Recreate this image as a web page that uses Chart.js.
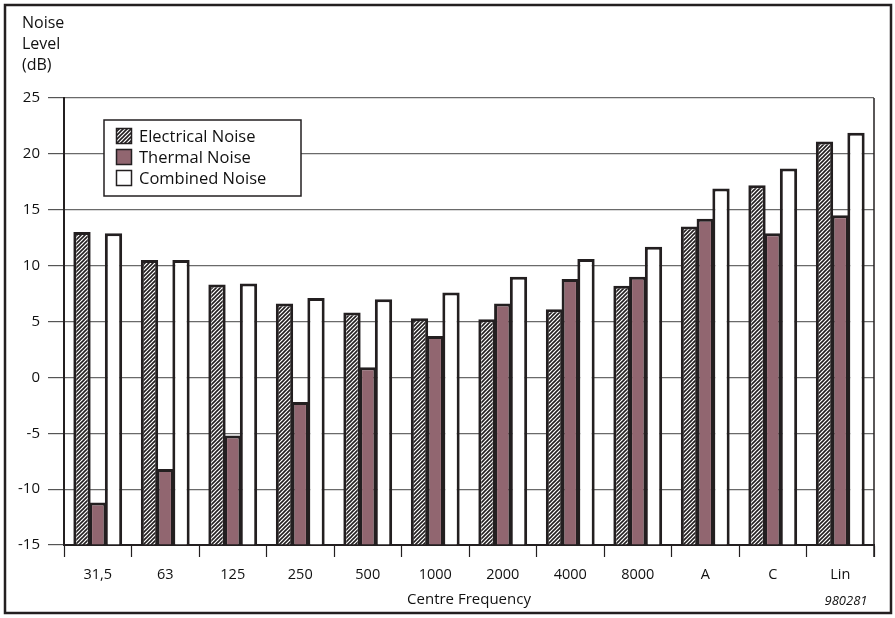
<!DOCTYPE html>
<html>
<head>
<meta charset="utf-8">
<script src="https://cdn.jsdelivr.net/npm/chart.js@4"></script>
<style>
  html, body { margin: 0; padding: 0; background: #fff; }
  #wrap { width: 895px; height: 618px; position: relative; }
</style>
</head>
<body>
<div id="wrap"><canvas id="noiseChart" width="895" height="618"></canvas></div>
<script>
const categories = ["31,5", "63", "125", "250", "500", "1000", "2000", "4000", "8000", "A", "C", "Lin"];
const electricalNoise = [13.0, 10.5, 8.3, 6.6, 5.8, 5.3, 5.2, 6.1, 8.2, 13.5, 17.2, 21.1];
const thermalNoise = [-11.2, -8.2, -5.2, -2.2, 0.9, 3.7, 6.6, 8.8, 9.0, 14.2, 12.9, 14.5];
const combinedNoise = [12.9, 10.5, 8.4, 7.1, 7.0, 7.6, 9.0, 10.6, 11.7, 16.9, 18.7, 21.9];
const yMin = -15, yMax = 25, yStep = 5;

const INK = "#231f20";
const MAUVE = "#916670";
const FONT = "'Open Sans', 'Noto Sans', sans-serif";

// diagonal hatch for the electrical noise bars
function makeHatch() {
    const s = 4;
    const c = document.createElement("canvas");
    c.width = s; c.height = s;
    const g = c.getContext("2d");
    g.fillStyle = "#fff";
    g.fillRect(0, 0, s, s);
    g.strokeStyle = INK;
    g.lineWidth = 1.6;
    g.beginPath();
    g.moveTo(-1, s + 1); g.lineTo(s + 1, -1);
    g.moveTo(-1, 1); g.lineTo(1, -1);
    g.moveTo(s - 1, s + 1); g.lineTo(s + 1, s - 1);
    g.stroke();
    return g.createPattern(c, "repeat");
}
const hatch = makeHatch();

// frame, right edge, header text and the boxed legend
const decorations = {
    id: "decorations",
    beforeDatasetsDraw(chart) {
        const { ctx, chartArea } = chart;
        ctx.save();
        ctx.strokeStyle = INK;
        ctx.lineWidth = 1.5;
        ctx.beginPath();
        ctx.moveTo(chartArea.right, chartArea.top);
        ctx.lineTo(chartArea.right, chartArea.bottom + 12);
        ctx.stroke();
        ctx.restore();
    },
    afterDraw(chart) {
        const { ctx } = chart;
        ctx.save();
        ctx.strokeStyle = INK;
        ctx.lineWidth = 2.5;
        ctx.strokeRect(5, 5, 886, 608);

        ctx.fillStyle = "#111";
        ctx.font = "16px " + FONT;
        ctx.textBaseline = "middle";
        ctx.textAlign = "left";
        ["Noise", "Level", "(dB)"].forEach((t, i) => ctx.fillText(t, 22, 23 + i * 21));

        ctx.font = "italic 13px " + FONT;
        ctx.textAlign = "center";
        ctx.fillText("980281", 846, 601);

        // legend
        const lx = 104, ly = 120, lw = 197, lh = 76;
        ctx.fillStyle = "#fff";
        ctx.fillRect(lx, ly, lw, lh);
        ctx.lineWidth = 1.5;
        ctx.strokeStyle = INK;
        ctx.strokeRect(lx, ly, lw, lh);
        ctx.font = "16.5px " + FONT;
        ctx.textAlign = "left";
        chart.data.datasets.forEach((ds, i) => {
            const cy = 136 + i * 21;
            ctx.fillStyle = ds.backgroundColor;
            ctx.fillRect(116, cy - 8, 16, 16);
            ctx.strokeRect(116.5, cy - 7.5, 15, 15);
            ctx.fillStyle = "#111";
            ctx.fillText(ds.label, 139, cy + 1);
        });
        ctx.restore();
    }
};

const barStyle = {
    base: yMin,
    borderColor: INK,
    borderWidth: 3,
    borderSkipped: "start",
    barPercentage: 1.1,
    categoryPercentage: 0.7,
};

new Chart(document.getElementById("noiseChart"), {
    type: "bar",
    data: {
        labels: categories,
        datasets: [
            { label: "Electrical Noise", data: electricalNoise, backgroundColor: hatch, ...barStyle },
            { label: "Thermal Noise", data: thermalNoise, backgroundColor: MAUVE, ...barStyle },
            { label: "Combined Noise", data: combinedNoise, backgroundColor: "#ffffff", ...barStyle },
        ],
    },
    options: {
        responsive: false,
        animation: false,
        layout: { padding: { left: 0, top: 98, right: 21, bottom: 0 } },
        plugins: {
            legend: { display: false },
            tooltip: { enabled: false },
        },
        scales: {
            x: {
                afterFit(scale) { scale.height = 73; },
                grid: {
                    offset: true,
                    drawOnChartArea: false,
                    tickLength: 12,
                    tickColor: INK,
                    tickWidth: 1.2,
                },
                border: { color: INK, width: 2 },
                ticks: {
                    color: "#111",
                    font: { family: FONT, size: 14.5 },
                    padding: 9,
                    maxRotation: 0,
                },
                title: {
                    display: true,
                    text: "Centre Frequency",
                    color: "#111",
                    font: { family: FONT, size: 15 },
                    padding: { top: 2, bottom: 9 },
                },
            },
            y: {
                min: yMin,
                max: yMax,
                afterFit(scale) { scale.width = 64; },
                grid: {
                    color: "#6a6a6a",
                    lineWidth: 1.2,
                    tickLength: 16,
                    tickColor: "#555",
                },
                border: { color: INK, width: 2 },
                ticks: {
                    stepSize: yStep,
                    color: "#111",
                    font: { family: FONT, size: 15 },
                    padding: 8,
                },
            },
        },
    },
    plugins: [decorations],
});
</script>
</body>
</html>
